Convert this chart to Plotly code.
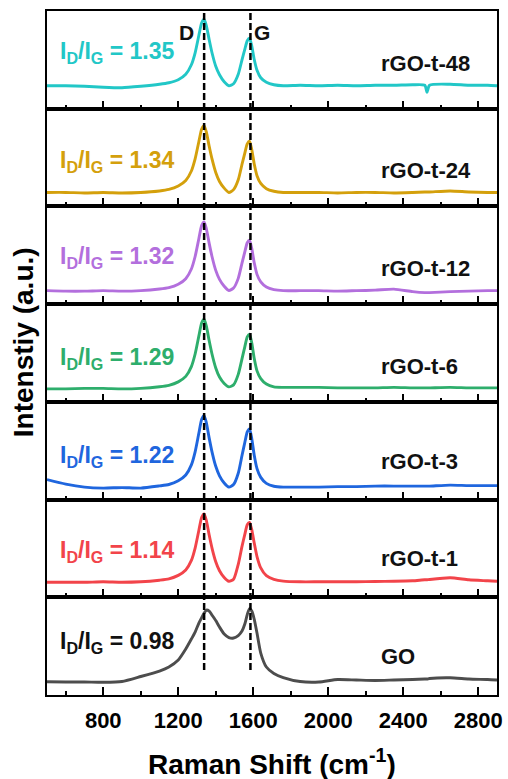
import plotly.graph_objects as go
from plotly.subplots import make_subplots

# ---------------- data ----------------
raman_shift = [500, 600, 700, 800, 900, 1000, 1100, 1150, 1200, 1240, 1270, 1290, 1310, 1325,
               1338, 1350, 1365, 1380, 1400, 1420, 1445, 1470, 1495, 1520, 1540, 1555, 1568,
               1580, 1592, 1605, 1620, 1640, 1670, 1710, 1760, 1850, 1950, 2050, 2150, 2250,
               2350, 2450, 2515, 2527, 2540, 2650, 2750, 2850, 2900]

samples = ["rGO-t-48", "rGO-t-24", "rGO-t-12", "rGO-t-6", "rGO-t-3", "rGO-t-1", "GO"]
id_ig = ["1.35", "1.34", "1.32", "1.29", "1.22", "1.14", "0.98"]

int_rgo_t_48 = [23, 23, 22.5, 21.5, 21, 22.5, 24.5, 26, 29, 34.5, 44, 56, 73.5, 86,
                89.5, 83, 69, 56, 42.5, 34, 27, 23, 25, 34.5, 49, 59.5, 68,
                70.5, 63, 49.5, 38.5, 31, 26.5, 24, 23, 23.5, 23, 23.5, 23, 23.5,
                23.5, 24, 23.5, 16.5, 23.5, 24.5, 23.5, 23.5, 23]
int_rgo_t_24 = [14, 14, 13.5, 14, 13.5, 14, 15.5, 17, 20.5, 26, 35.5, 47.6, 65, 77.5,
                80.8, 74.3, 60.2, 47.5, 34, 25, 18.3, 14, 16.8, 26.7, 42.2, 53.4, 62.6,
                65.2, 57, 42.7, 30.8, 23, 17.8, 15.2, 14, 14, 14, 13.5, 14, 14,
                13.5, 14, 14.5, 14.5, 14.5, 15.5, 14.5, 14, 14]
int_rgo_t_12 = [13.5, 13, 13, 13.5, 13, 13.5, 15.1, 16.5, 19.9, 25.5, 35.2, 47.7, 65.7, 78.8,
                82.3, 75.4, 60.8, 47.7, 33.8, 24.8, 17.9, 13.7, 16.1, 25.8, 41.1, 52.3, 61.5,
                64, 55.8, 41.6, 29.8, 22.2, 17.1, 14.5, 13.5, 13.5, 13.5, 13, 13.5, 14,
                15, 12.5, 11.5, 11.5, 11.5, 12.5, 13, 13.5, 13.5]
int_rgo_t_6 = [13, 13, 13.5, 13.5, 13, 13.5, 15.1, 16.5, 20, 25.5, 35.3, 47.9, 66, 79.2,
               82.7, 75.7, 61.1, 47.9, 33.9, 24.8, 18.4, 15, 17, 27.5, 43.1, 55.1, 65,
               67.7, 59, 43.6, 31, 23.3, 17.8, 15, 14.5, 14.5, 14.5, 14, 14, 14,
               14.5, 14, 14, 14, 14, 14.5, 14, 14, 14]
int_rgo_t_3 = [20, 15.5, 12.5, 11.5, 12, 11.5, 13.7, 15.1, 18.8, 24.6, 34.7, 47.8, 66.6, 80.4,
               84, 76.8, 61.5, 47.8, 33.3, 23.8, 16.6, 12.5, 15, 26.3, 44.1, 57.1, 67.7,
               70.7, 61.2, 44.7, 31, 22.2, 16.2, 13.3, 12.5, 12.5, 12.5, 13, 13, 13.5,
               13.5, 13.5, 13.5, 13.5, 13.5, 14.5, 14, 14, 14]
int_rgo_t_1 = [15, 15, 15, 15.5, 15, 15.5, 17.1, 18.4, 21.9, 27.3, 36.9, 49.3, 67.1, 80.1,
               83.5, 76.7, 62.3, 49.3, 35.6, 26.6, 19.8, 16, 18, 33, 51, 63, 72.6,
               75, 67.8, 54.6, 40.8, 29.4, 21.6, 18, 16.2, 15.5, 15.5, 15.5, 15.5, 15.8,
               16, 16.5, 17.5, 17.5, 17.8, 19.5, 17.5, 16.5, 16]
int_go = [13.3, 13, 13, 12.7, 13.5, 18.5, 24, 28, 35, 46, 56, 63, 72, 77.5,
          82, 85, 84, 80, 74.5, 68, 61, 57.5, 57, 59.5, 64, 71, 80.5,
          86.5, 84, 76, 62, 42, 28, 21.5, 17.5, 13.5, 13, 15.5, 15, 14.5,
          15, 15.5, 16, 16, 16.5, 17.3, 16, 15.5, 15]

spectra = [int_rgo_t_48, int_rgo_t_24, int_rgo_t_12, int_rgo_t_6, int_rgo_t_3, int_rgo_t_1, int_go]

d_band = 1338
g_band = 1585
x_ticks_major = 400
x_ticks_minor = 200

# ---------------- styles ----------------
line_colors = ["#22C7C7", "#D4A00C", "#B36FDD", "#2EAE6C", "#1F66DE", "#F2444A", "#4D4D4D"]
label_colors = ["#22C7C7", "#D4A00C", "#B36FDD", "#2EAE6C", "#1F66DE", "#F2444A", "#111111"]
ratio_ypos = [0.575, 0.455, 0.482, 0.448, 0.443, 0.468, 0.535]
name_ypos = [0.462, 0.366, 0.360, 0.359, 0.389, 0.397, 0.397]

FONT = "Liberation Sans, Arial, sans-serif"
n = len(samples)

fig = make_subplots(rows=n, cols=1, shared_xaxes=True, vertical_spacing=0)

for i in range(n):
    fig.add_trace(go.Scatter(x=raman_shift, y=spectra[i], mode="lines",
                             line=dict(color=line_colors[i], width=2.9, shape="spline", smoothing=0.6),
                             hoverinfo="skip", showlegend=False),
                  row=i + 1, col=1)

for i in range(n):
    r = i + 1
    fig.update_yaxes(range=[0, 97.8], showticklabels=False, ticks="", showgrid=False, zeroline=False,
                     showline=True, mirror=True, linecolor="black", linewidth=2,
                     automargin=False, row=r, col=1)
    fig.update_xaxes(range=[500, 2900], showgrid=False, zeroline=False,
                     showline=True, mirror=True, linecolor="black", linewidth=2,
                     ticks="inside", ticklen=8, tickwidth=2, tickcolor="black",
                     tick0=800, dtick=x_ticks_major,
                     minor=dict(ticks="inside", ticklen=4, tickwidth=2, tickcolor="black",
                                tick0=800, dtick=x_ticks_minor),
                     showticklabels=(r == n),
                     tickfont=dict(family=FONT, size=22, color="black", weight="bold"),
                     ticklabelstandoff=5, automargin=False,
                     row=r, col=1)

# dashed guide lines for D and G bands
for xv in [d_band, g_band]:
    fig.add_shape(type="line", xref="x7", yref="paper", x0=xv, x1=xv, y0=0.0365, y1=1,
                  line=dict(color="black", width=2.5, dash="7px,3px"), layer="above")

annotations = []
for i in range(n):
    xa = "x" if i == 0 else f"x{i+1}"
    ya = "y" if i == 0 else f"y{i+1}"
    annotations.append(dict(
        text=f"<b>I<sub>D</sub>/I<sub>G</sub> = {id_ig[i]}</b>",
        xref=xa, yref=f"{ya} domain", x=558, y=ratio_ypos[i],
        xanchor="left", yanchor="middle", showarrow=False,
        font=dict(family=FONT, size=23, color=label_colors[i])))
    annotations.append(dict(
        text=f"<b>{samples[i]}</b>",
        xref=xa, yref=f"{ya} domain", x=2270, y=name_ypos[i],
        xanchor="left", yanchor="middle", showarrow=False,
        font=dict(family=FONT, size=22, color="#111111")))

annotations.append(dict(text="<b>D</b>", xref="x", yref="y domain", x=1292, y=0.777,
                        xanchor="right", yanchor="middle", showarrow=False,
                        font=dict(family=FONT, size=21, color="#111111")))
annotations.append(dict(text="<b>G</b>", xref="x", yref="y domain", x=1594, y=0.777,
                        xanchor="left", yanchor="middle", showarrow=False,
                        font=dict(family=FONT, size=21, color="#111111")))

annotations.append(dict(text="<b>Intenstiy (a.u.)</b>", xref="paper", yref="paper",
                        x=-0.053, y=0.516, textangle=-90, xanchor="center", yanchor="middle",
                        showarrow=False, font=dict(family=FONT, size=28, color="black")))
annotations.append(dict(text="<b>Raman Shift (cm<sup>-1</sup>)</b>", xref="paper", yref="paper",
                        x=0.5, y=-0.098, xanchor="center", yanchor="middle",
                        showarrow=False, font=dict(family=FONT, size=28, color="black")))

fig.update_layout(width=508, height=779, margin=dict(l=47, r=11, t=11, b=84, autoexpand=False),
                  paper_bgcolor="white", plot_bgcolor="white", showlegend=False,
                  annotations=annotations)

# remove the browser's default 8 px page margin so the figure fills the window exactly
fig.write_html("out.html", config={"displayModeBar": False},
               post_script="document.body.style.margin='0';document.body.style.overflow='hidden';")
